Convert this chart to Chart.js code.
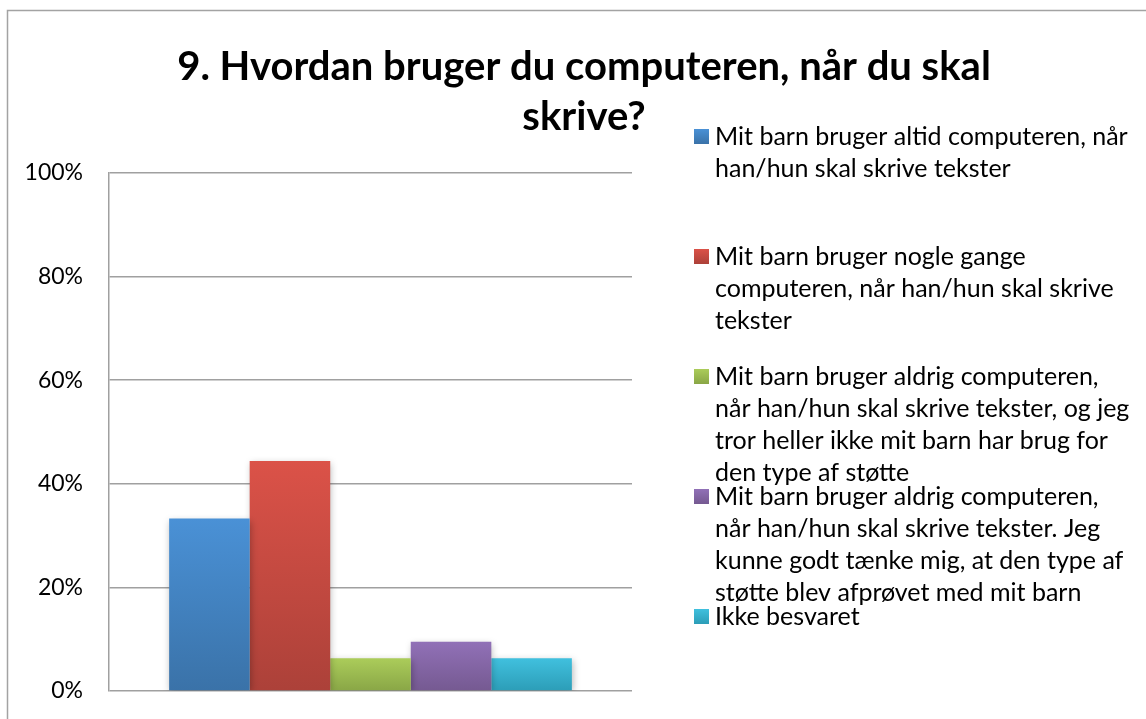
<!DOCTYPE html>
<html>
<head>
<meta charset="utf-8">
<script src="https://cdn.jsdelivr.net/npm/chart.js@4/dist/chart.umd.min.js"></script>
<style>
	html, body { margin: 0; padding: 0; background: #fff; overflow: hidden; }
	.chart-box { position: relative; width: 1146px; height: 719px; }
</style>
</head>
<body>
<div class="chart-box"><canvas id="chart"></canvas></div>
<script>
const titleLines = ['9. Hvordan bruger du computeren, når du skal', 'skrive?'];
const categories = [''];

// svarkategorier, delt i linjer som i Excel-forklaringen
const seriesNames = [
	['Mit barn bruger altid computeren, når', 'han/hun skal skrive tekster'],
	['Mit barn bruger nogle gange', 'computeren, når han/hun skal skrive', 'tekster'],
	['Mit barn bruger aldrig computeren,', 'når han/hun skal skrive tekster, og jeg', 'tror heller ikke mit barn har brug for', 'den type af støtte'],
	['Mit barn bruger aldrig computeren,', 'når han/hun skal skrive tekster. Jeg', 'kunne godt tænke mig, at den type af', 'støtte blev afprøvet med mit barn'],
	['Ikke besvaret']
];
const seriesValues = [33.3, 44.4, 6.3, 9.5, 6.3];
const yTicks = [0, 20, 40, 60, 80, 100];

const topColors = ['#4a91d6', '#db5248', '#abcc5a', '#9171b7', '#40c0de'];
const bottomColors = ['#3a72a8', '#ac4139', '#89a646', '#755991', '#2c9db7'];

const FONT = 'Lato, "Open Sans", sans-serif';

function barGradient(context, i) {
	const chart = context.chart;
	if (!chart.chartArea || !context.parsed) return bottomColors[i];
	const yScale = chart.scales.y;
	const yTop = yScale.getPixelForValue(context.parsed.y);
	const yBase = yScale.getPixelForValue(0);
	const g = chart.ctx.createLinearGradient(0, yTop, 0, yBase);
	g.addColorStop(0, topColors[i]);
	g.addColorStop(1, bottomColors[i]);
	return g;
}

const decorations = {
	id: 'decorations',
	beforeDraw(chart) {
		const ctx = chart.ctx;
		ctx.save();
		ctx.strokeStyle = '#a3a3a3';
		ctx.lineWidth = 1.5;
		ctx.beginPath();
		ctx.moveTo(7.5, chart.height + 5);
		ctx.lineTo(7.5, 10.5);
		ctx.lineTo(chart.width + 5, 10.5);
		ctx.stroke();
		ctx.restore();
	},
	beforeDatasetsDraw(chart) {
		const ctx = chart.ctx;
		ctx.save();
		ctx.shadowColor = 'rgba(0,0,0,0.28)';
		ctx.shadowBlur = 7;
		ctx.shadowOffsetX = 1;
		ctx.shadowOffsetY = 2;
	},
	afterDatasetsDraw(chart) {
		chart.ctx.restore();
	},
	afterDraw(chart) {
		const ctx = chart.ctx;
		const top = chart.chartArea.top - 36;
		const left = chart.chartArea.right + 62;
		ctx.save();
		ctx.font = '25px ' + FONT;
		ctx.textBaseline = 'middle';
		seriesNames.forEach((lines, i) => {
			const y = top + i * 120;
			const g = ctx.createLinearGradient(0, y - 8, 0, y + 7);
			g.addColorStop(0, topColors[i]);
			g.addColorStop(1, bottomColors[i]);
			ctx.fillStyle = g;
			ctx.fillRect(left, y - 8, 15, 15);
			ctx.fillStyle = '#000';
			lines.forEach((line, k) => {
				ctx.fillText(line, left + 21, y + k * 32);
			});
		});
		ctx.restore();
	}
};

const datasets = seriesValues.map((v, i) => ({
	label: seriesNames[i].join(' '),
	data: [v],
	backgroundColor: (c) => barGradient(c, i),
	borderWidth: 0,
	yAxisID: 'y'
}));

const chart = new Chart(document.getElementById('chart'), {
	type: 'bar',
	data: {
		labels: categories,
		datasets: datasets
	},
	options: {
		responsive: true,
		maintainAspectRatio: false,
		animation: false,
		categoryPercentage: 0.77,
		barPercentage: 1,
		layout: {
			padding: { top: 0, left: 22, right: 0, bottom: 28 }
		},
		plugins: {
			legend: { display: false },
			tooltip: { enabled: false },
			title: {
				display: true,
				text: titleLines,
				color: '#000',
				font: { family: FONT, size: 40, weight: 'bold', lineHeight: '50px' },
				padding: { top: 42, bottom: 31 }
			}
		},
		scales: {
			x: {
				display: false
			},
			y: {
				min: 0,
				max: 100,
				afterBuildTicks: (scale) => {
					scale.ticks = yTicks.map(v => ({ value: v }));
				},
				afterFit: (scale) => { scale.width = 87; },
				ticks: {
					padding: 0,
					color: '#000',
					font: { family: FONT, size: 23 },
					callback: (v) => v + '%'
				},
				grid: {
					color: '#a0a0a0',
					lineWidth: 1.5,
					drawTicks: true,
					tickLength: 26,
					tickColor: 'rgba(0,0,0,0)'
				},
				border: { display: true, color: '#a0a0a0', width: 1.5 }
			},
			y2: {
				position: 'right',
				display: true,
				afterFit: (scale) => { scale.width = 514; },
				ticks: { display: false },
				grid: { display: false },
				border: { display: false }
			}
		}
	},
	plugins: [decorations]
});
</script>
</body>
</html>
